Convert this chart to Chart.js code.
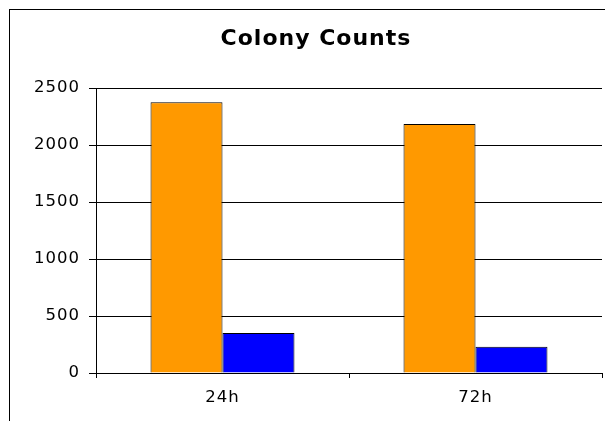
<!DOCTYPE html>
<html>
<head>
<meta charset="utf-8">
<script src="https://cdn.jsdelivr.net/npm/chart.js@4/dist/chart.umd.min.js"></script>
<style>
  html, body { margin: 0; padding: 0; background: #fff; }
  #wrap { width: 605px; height: 421px; position: relative; }
</style>
</head>
<body>
<div id="wrap"><canvas id="chart" width="605" height="421"></canvas></div>
<script>
const categories = ['24h', '72h'];
const seriesA = [2375, 2185];
const seriesB = [350, 230];
const yTicks = [0, 500, 1000, 1500, 2000, 2500];

// outer frame of the chart object, it runs off the right and bottom edge
// also widens the letters a little, the original font is wider than DejaVu
const framePlugin = {
    id: 'frame',
    beforeUpdate(chart) {
        chart.ctx.letterSpacing = '1px';
    },
    beforeDraw(chart) {
        chart.ctx.letterSpacing = '1px';
    },
    afterDraw(chart) {
        const ctx = chart.ctx;
        ctx.save();
        ctx.strokeStyle = '#000';
        ctx.lineWidth = 1;
        ctx.strokeRect(9.5, 9.5, 700, 500);
        ctx.restore();
    }
};

Chart.defaults.font.family = '"DejaVu Sans", Verdana, sans-serif';
Chart.defaults.color = '#000';

new Chart(document.getElementById('chart'), {
    type: 'bar',
    data: {
        labels: categories,
        datasets: [{
            label: 'A',
            data: seriesA,
            backgroundColor: '#FF9900',
            borderColor: '#000',
            borderWidth: 1
        }, {
            label: 'B',
            data: seriesB,
            backgroundColor: '#0000FF',
            borderColor: '#000',
            borderWidth: 1
        }]
    },
    options: {
        responsive: false,
        animation: false,
        // left padding is large so the title centre sits where the original has it,
        // the y labels just hang over into it
        layout: { padding: { left: 30, right: 3, top: 10, bottom: 0 } },
        datasets: {
            bar: { categoryPercentage: 0.569, barPercentage: 1.0 }
        },
        plugins: {
            legend: { display: false },
            tooltip: { enabled: false },
            title: {
                display: true,
                text: 'Colony Counts',
                font: { size: 22, weight: 'bold', lineHeight: 1.2 },
                padding: { top: 16, bottom: 35.6 },
                color: '#000'
            }
        },
        scales: {
            x: {
                grid: { offset: true, drawOnChartArea: false, tickLength: 5, color: '#000' },
                border: { color: '#000' },
                ticks: { font: { size: 16.5 }, padding: 10 },
                afterFit(scale) { scale.height = 48; }
            },
            y: {
                min: 0,
                max: 2500,
                afterBuildTicks(scale) { scale.ticks = yTicks.map(v => ({ value: v })); },
                grid: { color: '#000', tickLength: 7 },
                border: { color: '#000' },
                ticks: { font: { size: 16.5 }, padding: 9, callback: v => String(v) },
                afterFit(scale) { scale.width = 66; }
            }
        }
    },
    plugins: [framePlugin]
});
</script>
</body>
</html>
